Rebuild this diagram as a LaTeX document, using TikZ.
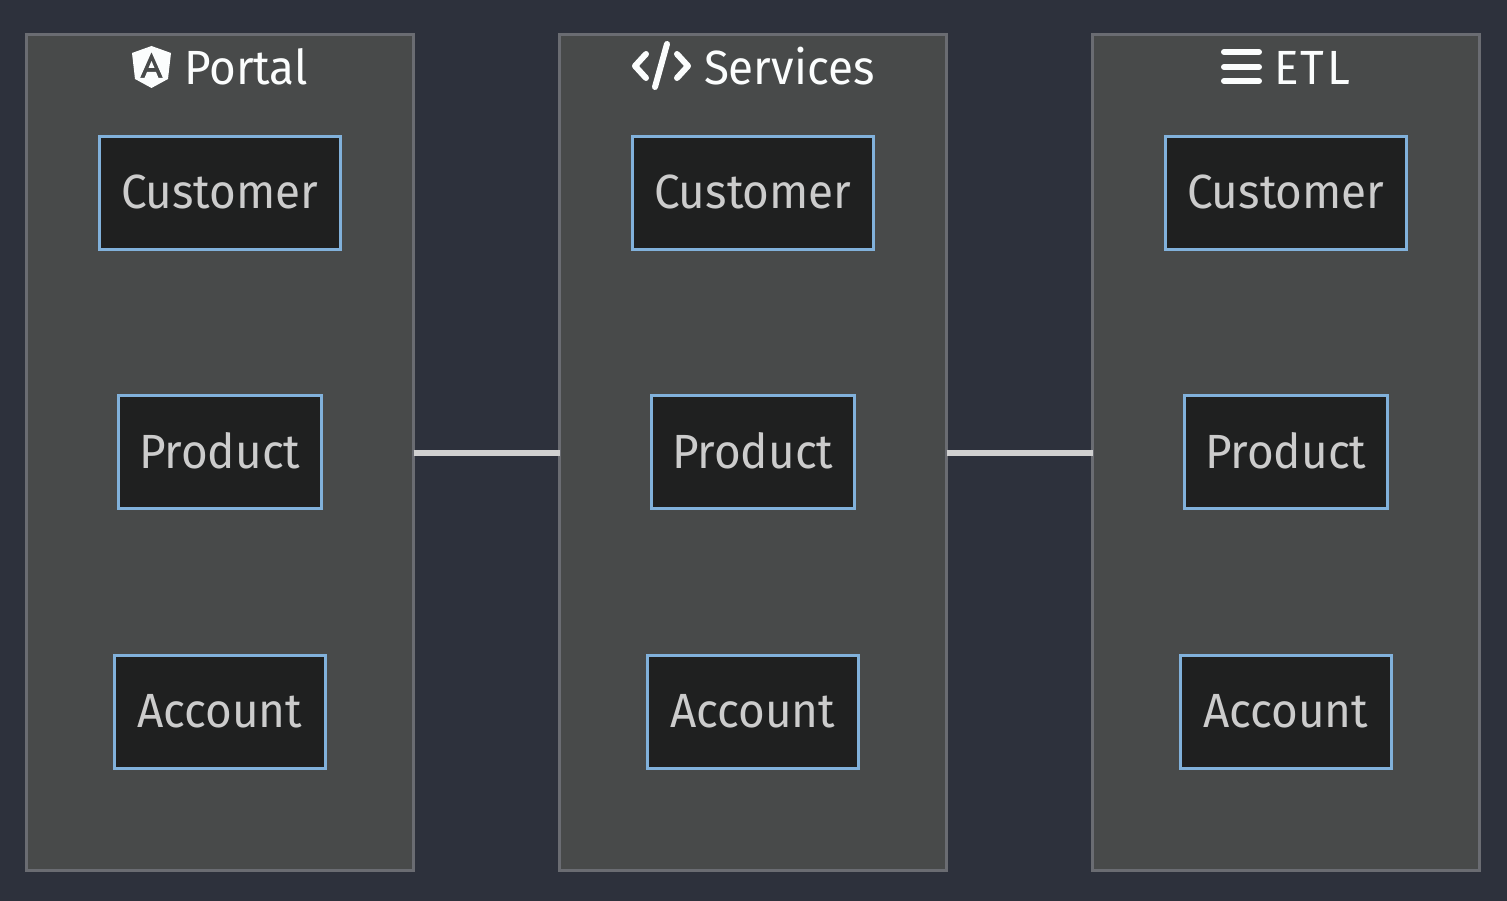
\documentclass[tikz,border=0pt]{standalone}
\usepackage{fontspec}
\setmainfont{Fira Sans}[FakeStretch=0.955]
\definecolor{bgc}{HTML}{2D313C}
\definecolor{clf}{HTML}{484A4A}
\definecolor{cld}{HTML}{6A6C72}
\definecolor{nf}{HTML}{1F2020}
\definecolor{nd}{HTML}{81B1DB}
\definecolor{tx}{HTML}{CCCCCC}
\definecolor{edgec}{HTML}{D0D0D0}
\definecolor{ttl}{HTML}{FBFDFD}
\tikzset{
 x=1pt,y=-1pt,
 cluster/.style={draw=cld,fill=clf,line width=3pt,minimum width=387pt,minimum height=835pt,inner sep=0pt,outer sep=0pt},
 entity/.style={draw=nd,fill=nf,line width=3pt,text=tx,minimum height=113pt,text height=32pt,text depth=0pt,inner sep=0pt,outer sep=0pt,font=\fontsize{48}{48}\selectfont},
 titletext/.style={text=ttl,inner sep=0pt,outer sep=0pt,anchor=base west,font=\fontsize{48}{48}\selectfont},
 link/.style={draw=edgec,line width=6pt},
 glyph/.style={draw=ttl,line width=6pt,line cap=round,line join=round}
}
\begin{document}
\begin{tikzpicture}
\useasboundingbox (0,0) rectangle (1507,901);
\fill[bgc] (0,0) rectangle (1507,901);
% clusters
\node[cluster] (portal) at (220,452.5) {};
\node[cluster] (services) at (753,452.5) {};
\node[cluster] (etl) at (1286,452.5) {};
\draw[link] (portal.east) -- (services.west);
\draw[link] (services.east) -- (etl.west);
% entities
\foreach \n/\xc in {p/219.8,s/752.8,e/1285.8}{
 \node[entity,minimum width=241pt] (\n c) at (\xc,193) {Customer};
 \node[entity,minimum width=203pt] (\n p) at (\xc,452.3) {Product};
 \node[entity,minimum width=211pt] (\n a) at (\xc,711.5) {Account};
}
% titles
\node[titletext] (tp) at (184,85) {Portal};
\node[titletext] (ts) at (704,85) {Services};
\node[titletext] (te) at (1274,85) {\addfontfeature{LetterSpace=5}ETL};
% angular icon
\fill[ttl,even odd rule] (151.5,46) -- (171,53) -- (168,79) -- (151.5,88) -- (135,79) -- (132,53) -- cycle
 (151.5,52) -- (140,78) -- (144.5,78) -- (147,72) -- (156,72) -- (158.5,78) -- (163,78) -- cycle
 (151.5,61) -- (148.5,68) -- (154.5,68) -- cycle;
% code icon
\draw[glyph] (646,54) -- (635,66) -- (646,78);
\draw[glyph] (677,54) -- (688,66) -- (677,78);
\draw[glyph] (667,44) -- (655,87);
% bars icon
\draw[glyph] (1224,52) -- (1259,52);
\draw[glyph] (1224,67) -- (1259,67);
\draw[glyph] (1224,81) -- (1259,81);
\end{tikzpicture}
\end{document}
